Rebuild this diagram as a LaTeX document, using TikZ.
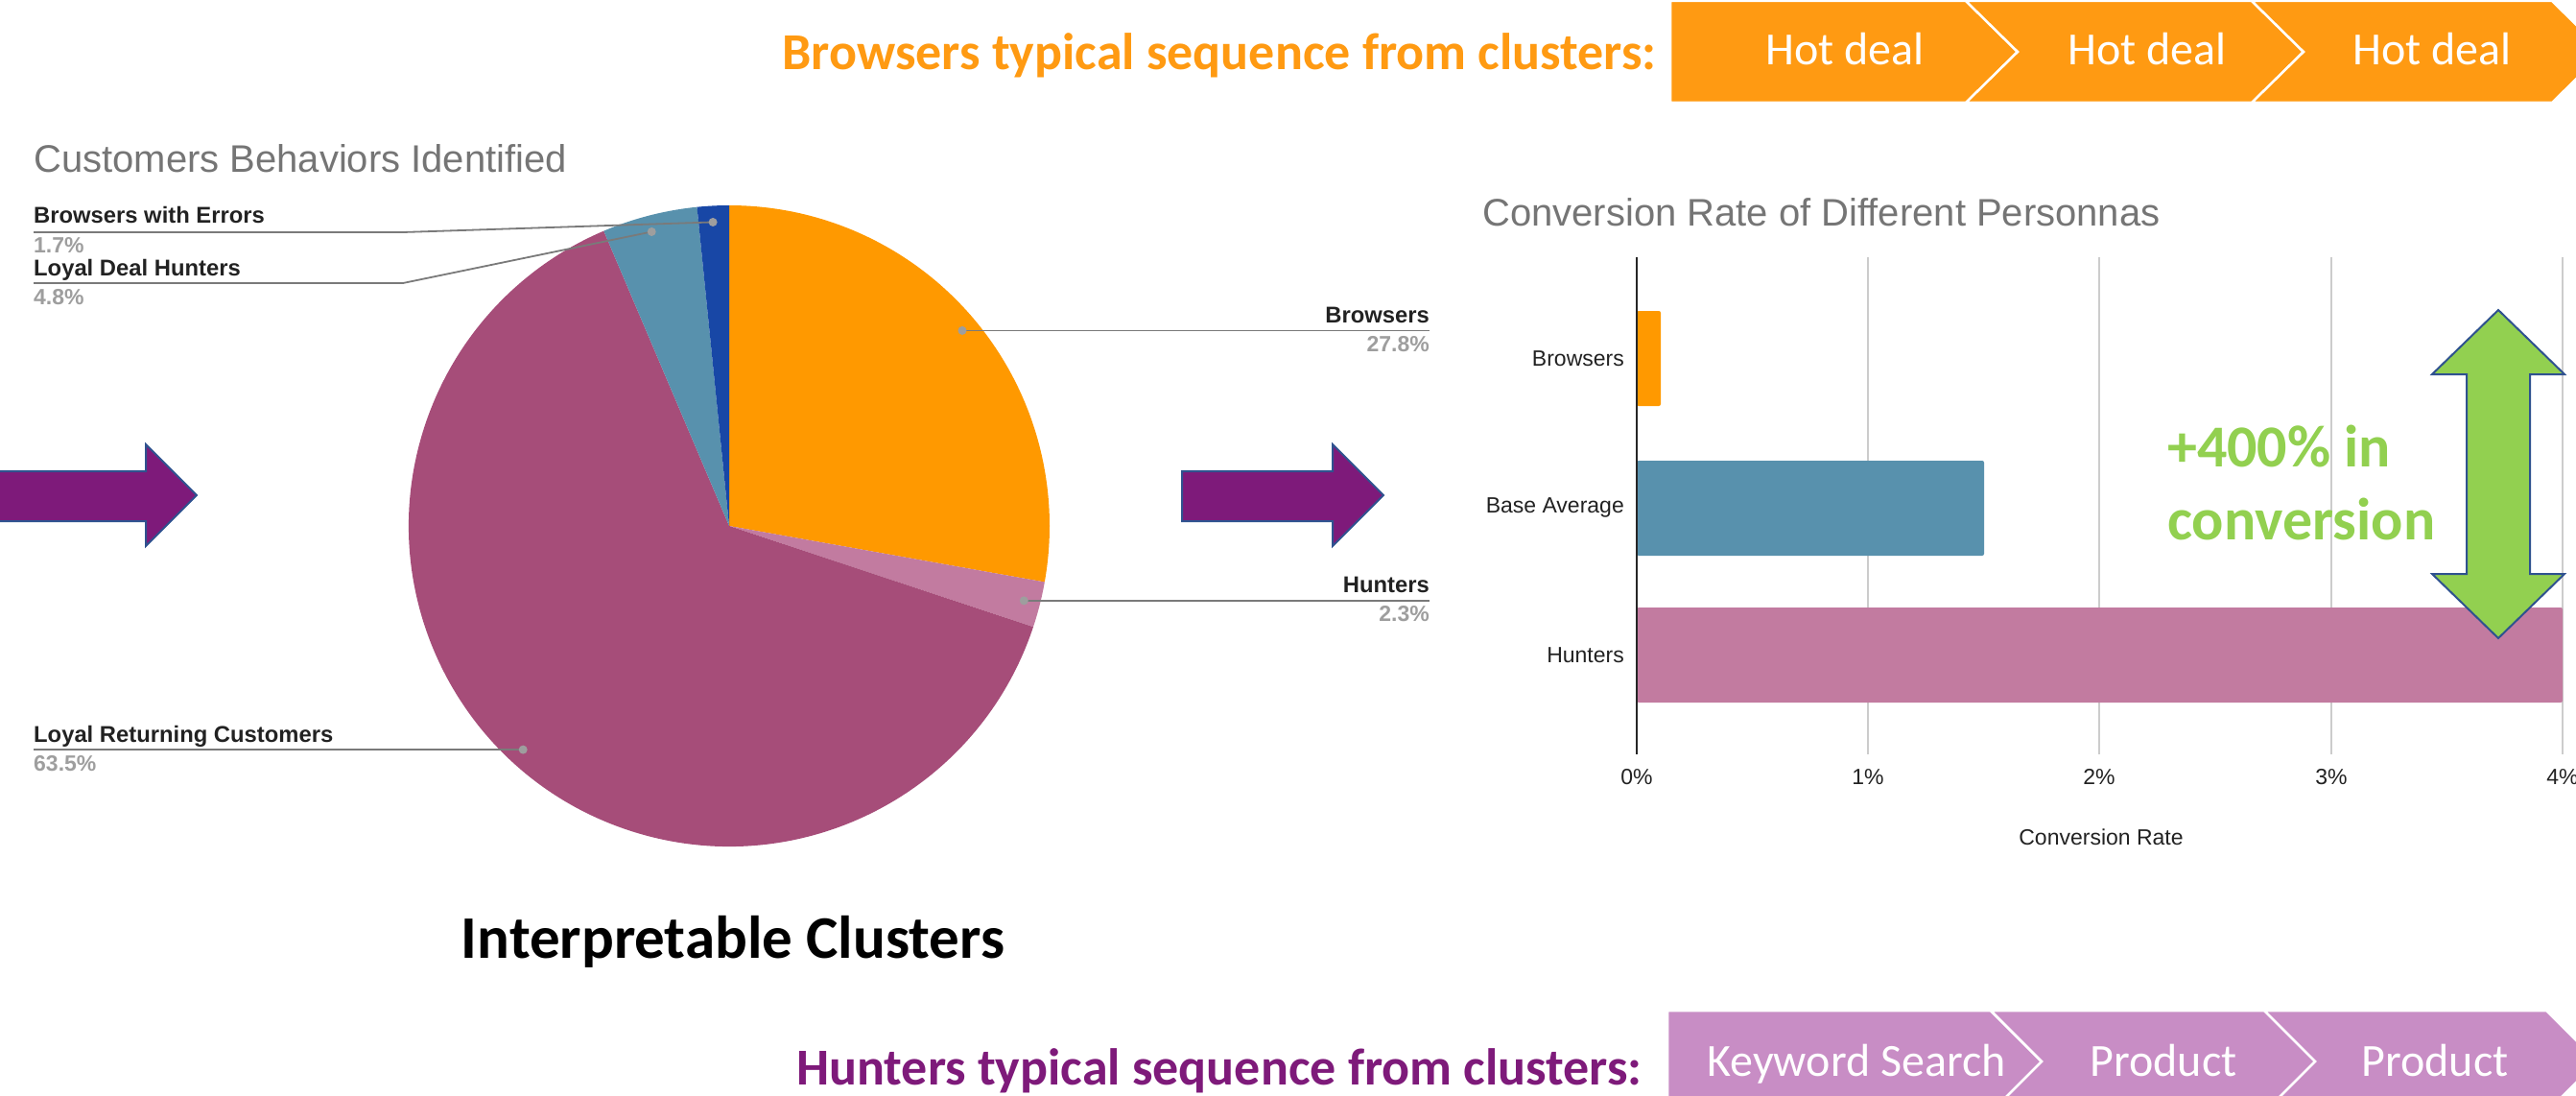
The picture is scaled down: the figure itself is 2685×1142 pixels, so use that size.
\documentclass[tikz,border=0pt]{standalone}
\usepackage{fontspec}
\setmainfont{Liberation Sans}
\newfontfamily\calibri{Carlito}
\definecolor{pOrange}{HTML}{FF9900}
\definecolor{chOrange}{HTML}{FF9A12}
\definecolor{chPink}{HTML}{C88DC5}
\definecolor{pHunt}{HTML}{C27BA0}
\definecolor{pLoyal}{HTML}{A64D79}
\definecolor{pDeal}{HTML}{5891AD}
\definecolor{pErr}{HTML}{1847A6}
\definecolor{arrPurple}{HTML}{7E1A7A}
\definecolor{arrEdge}{HTML}{2F528F}
\definecolor{arrGreen}{HTML}{92D050}
\definecolor{titleGrey}{HTML}{757575}
\definecolor{lblBlack}{HTML}{222222}
\definecolor{pctGrey}{HTML}{9E9E9E}
\definecolor{leadGrey}{HTML}{7A7A7A}
\definecolor{gridGrey}{HTML}{CCCCCC}
\begin{document}
\begin{tikzpicture}[x=1pt,y=-1pt,
  charttitle/.style={font=\fontsize{40}{48}\selectfont, text=titleGrey, inner sep=0, anchor=base west},
  slicelbl/.style={font=\fontsize{23.8}{28}\selectfont\bfseries, text=lblBlack, inner sep=0},
  slicepct/.style={font=\fontsize{23}{27}\selectfont\bfseries, text=pctGrey, inner sep=0},
  leader/.style={draw=leadGrey, line width=1.8pt},
  leaddot/.style={fill=pctGrey},
  axislbl/.style={font=\fontsize{23}{27}\selectfont, text=lblBlack, inner sep=0},
  gridline/.style={draw=gridGrey, line width=1.5pt},
  bigarrow/.style={draw=arrEdge, line width=2pt, line join=miter},
  header/.style={font=\calibri\bfseries\fontsize{54}{60}\selectfont, inner sep=0, anchor=base east},
  chevtext/.style={font=\calibri\fontsize{48}{56}\selectfont, text=white, inner sep=0, anchor=base},
  chevron/.style={draw=white, line width=2.5pt, line join=miter},
]
\clip (0,0) rectangle (2685,1142);

% ---------- top header and chevrons ----------
\node[header, text=chOrange] (hdrB) at (1727,73) {Browsers typical sequence from clusters:};
\path[chevron, fill=chOrange] (1741,1) -- (2049,1) -- (2103,54) -- (2049,107) -- (1741,107) -- cycle;
\path[chevron, fill=chOrange] (2049,1) -- (2347,1) -- (2401,54) -- (2347,107) -- (2049,107) -- (2103,54) -- cycle;
\path[chevron, fill=chOrange] (2347,1) -- (2660,1) -- (2714,54) -- (2660,107) -- (2347,107) -- (2401,54) -- cycle;
\node[chevtext] (hd1) at (1923,68) {Hot deal};
\node[chevtext] (hd2) at (2238,68) {Hot deal};
\node[chevtext] (hd3) at (2535,68) {Hot deal};

% ---------- bottom header and chevrons ----------
\node[header, text=arrPurple] (hdrH) at (1712,1130) {Hunters typical sequence from clusters:};
\path[chevron, fill=chPink] (1738,1053) -- (2075,1053) -- (2128,1106) -- (2075,1159) -- (1738,1159) -- cycle;
\path[chevron, fill=chPink] (2075,1053) -- (2360,1053) -- (2413,1106) -- (2360,1159) -- (2075,1159) -- (2128,1106) -- cycle;
\path[chevron, fill=chPink] (2360,1053) -- (2654,1053) -- (2707,1106) -- (2654,1159) -- (2360,1159) -- (2413,1106) -- cycle;
\node[chevtext] (ks1) at (1935,1121) {Keyword Search};
\node[chevtext] (pr2) at (2255,1121) {Product};
\node[chevtext] (pr3) at (2538,1121) {Product};

% ---------- pie chart ----------
\node[charttitle] (pieTitle) at (35,180) {Customers Behaviors Identified};
\begin{scope}[shift={(760,548)}]
  \fill[pOrange] (0,0) -- (90:334pt) arc[start angle=90, end angle=-10.08, radius=334pt] -- cycle;
  \fill[pHunt] (0,0) -- (-10.08:334pt) arc[start angle=-10.08, end angle=-18.36, radius=334pt] -- cycle;
  \fill[pLoyal] (0,0) -- (-18.36:334pt) arc[start angle=-18.36, end angle=-246.96, radius=334pt] -- cycle;
  \fill[pDeal] (0,0) -- (-246.96:334pt) arc[start angle=-246.96, end angle=-264.24, radius=334pt] -- cycle;
  \fill[pErr] (0,0) -- (-264.24:334pt) arc[start angle=-264.24, end angle=-270, radius=334pt] -- cycle;
  \coordinate (dBr) at (39.96:317pt);
  \coordinate (dHu) at (-14.22:317pt);
  \coordinate (dLo) at (-132.66:317pt);
  \coordinate (dDe) at (104.76:317pt);
  \coordinate (dEr) at (93.06:317pt);
\end{scope}

% left labels
\node[slicelbl, anchor=base west] (lEr) at (35,233) {Browsers with Errors};
\node[slicepct, anchor=base west] (pEr) at (35,263) {1.7\%};
\node[slicelbl, anchor=base west] (lDe) at (35,287) {Loyal Deal Hunters};
\node[slicepct, anchor=base west] (pDe) at (35,317) {4.8\%};
\node[slicelbl, anchor=base west] (lLo) at (35,773) {Loyal Returning Customers};
\node[slicepct, anchor=base west] (pLo) at (35,803) {63.5\%};
% right labels
\node[slicelbl, anchor=base east] (lBr) at (1490,336) {Browsers};
\node[slicepct, anchor=base east] (pBr) at (1490,366) {27.8\%};
\node[slicelbl, anchor=base east] (lHu) at (1490,617) {Hunters};
\node[slicepct, anchor=base east] (pHu) at (1490,647) {2.3\%};

\coordinate (sEr) at (35,242);  \coordinate (kEr) at (420,242);
\coordinate (sDe) at (35,295);  \coordinate (kDe) at (420,295);
\coordinate (sLo) at (35,781);
\coordinate (eBr) at (1490,344);
\coordinate (eHu) at (1490,626);
\draw[leader] (sEr) -- (kEr) -- (dEr);
\draw[leader] (sDe) -- (kDe) -- (dDe);
\draw[leader] (sLo) -- (sLo -| dLo) -- (dLo);
\draw[leader] (dBr) -- (dBr -| eBr);
\draw[leader] (dHu) -- (dHu -| eHu);
\foreach \d in {dEr,dDe,dLo,dBr,dHu} \fill[leaddot] (\d) circle[radius=4.5pt];

\node[font=\calibri\bfseries\fontsize{63}{70}\selectfont, text=black, inner sep=0, anchor=base] (interp) at (764,998) {Interpretable Clusters};

% ---------- purple arrows ----------
\path[bigarrow, fill=arrPurple] (-5,491) -- (152,491) -- (152,463) -- (205,516) -- (152,569) -- (152,543) -- (-5,543) -- cycle;
\path[bigarrow, fill=arrPurple] (1232,491) -- (1389,491) -- (1389,463) -- (1442,516) -- (1389,569) -- (1389,543) -- (1232,543) -- cycle;

% ---------- bar chart ----------
\node[charttitle] (barTitle) at (1545,236) {Conversion Rate of Different Personnas};
\foreach \gx in {1947,2188,2430,2671} \draw[gridline] (\gx,268) -- (\gx,786);
\fill[pOrange, rounded corners=2pt] (1706,324) rectangle (1731,423);
\fill[pDeal, rounded corners=2pt] (1706,480) rectangle (2068,579);
\fill[pHunt, rounded corners=2pt] (1706,633) rectangle (2671,732);
\draw[draw=black!85, line width=2pt] (1706,268) -- (1706,786);
\node[axislbl, anchor=east] (cBr) at (1693,374) {Browsers};
\node[axislbl, anchor=east] (cBa) at (1693,529) {Base Average};
\node[axislbl, anchor=east] (cHu) at (1693,683) {Hunters};
\node[axislbl] (t0) at (1706,810) {0\%};
\node[axislbl] (t1) at (1947,810) {1\%};
\node[axislbl] (t2) at (2188,810) {2\%};
\node[axislbl] (t3) at (2430,810) {3\%};
\node[axislbl] (t4) at (2671,810) {4\%};
\node[axislbl] (xTitle) at (2190,872) {Conversion Rate};

% ---------- green double arrow and text ----------
\path[bigarrow, fill=arrGreen] (2604,323) -- (2673,390) -- (2637,390) -- (2637,598) -- (2673,598) -- (2604,665) -- (2535,598) -- (2571,598) -- (2571,390) -- (2535,390) -- cycle;
\node[font=\calibri\bfseries\fontsize{62}{70}\selectfont, text=arrGreen, inner sep=0, anchor=base west] (gain1) at (2259,486) {+400\% in};
\node[font=\calibri\bfseries\fontsize{62}{70}\selectfont, text=arrGreen, inner sep=0, anchor=base west] (gain2) at (2259,562) {conversion};
\end{tikzpicture}
\end{document}
